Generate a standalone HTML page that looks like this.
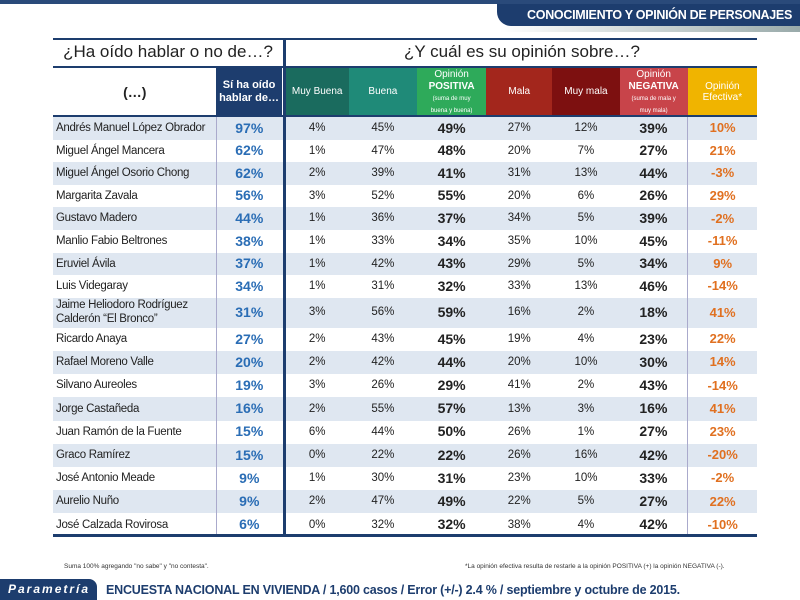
<!DOCTYPE html>
<html><head><meta charset="utf-8"><style>
*{margin:0;padding:0;box-sizing:border-box}
body{width:800px;height:600px;background:#fff;font-family:"Liberation Sans",sans-serif;position:relative;overflow:hidden}
.banner{position:absolute;left:0;top:0;width:800px;height:4px;background:#2a4a7a}
.tab{position:absolute;left:497px;top:4px;width:303px;height:22px;background:#1d3d6e;border-bottom-left-radius:14px;color:#fff;font-weight:bold;font-size:12.5px;letter-spacing:-0.3px;text-align:right;padding:4px 8px 0 0;white-space:nowrap}
.grey{position:absolute;left:500px;top:26px;width:300px;height:6px;background:linear-gradient(90deg,#fff,#9aa)}
.t{position:absolute;left:53px;width:704px;border-collapse:collapse;table-layout:fixed}
.hline{position:absolute;background:#1d3d6e;z-index:2}
td{font-size:11.5px;color:#222;text-align:center;height:22.6px;padding:0;line-height:1.1;white-space:nowrap;overflow:hidden}
td.n{text-align:left;padding-left:3px;border-right:1px solid #aac;font-size:11.5px;letter-spacing:-0.3px}
td.s{color:#2a6db5;font-weight:bold;font-size:14px}
td.p{font-weight:bold;font-size:14px}
td.e{color:#e07020;font-weight:bold;font-size:13px;border-left:1px solid #aac}
tr.a td{background:#dfe7f1}
.h td{color:#fff;font-size:10px;height:48px;line-height:1.15;white-space:normal}
.small{font-size:6px}
</style></head><body>
<div class="banner"></div>
<div class="tab">CONOCIMIENTO Y OPINIÓN DE PERSONAJES</div>
<div class="grey"></div>
<div class="hline" style="left:53px;top:38px;width:704px;height:2px"></div>
<div style="position:absolute;left:53px;top:42px;width:230px;text-align:center;font-size:17px;color:#222">¿Ha oído hablar o no de…?</div>
<div style="position:absolute;left:287px;top:42px;width:470px;text-align:center;font-size:17px;color:#222">¿Y cuál es su opinión sobre…?</div>
<div class="hline" style="left:53px;top:66px;width:704px;height:2px"></div>
<div class="hline" style="left:283px;top:40px;width:3px;height:495px"></div>
<table class="t" style="top:68px">
<colgroup><col style="width:163px"><col style="width:65px"><col style="width:4px"><col style="width:63px"><col style="width:68px"><col style="width:69px"><col style="width:66px"><col style="width:67px"><col style="width:68px"><col style="width:69px"></colgroup>
<tr class="h">
<td style="color:#222;font-size:14px;font-weight:bold">(…)</td>
<td style="background:#1d3d6e;font-size:11px;font-weight:bold">Sí ha oído<br>hablar de…</td>
<td></td>
<td style="background:#1a6b5e">Muy Buena</td>
<td style="background:#1f8a78">Buena</td>
<td style="background:#2eaa5a">Opinión<br><b>POSITIVA</b><br><span class="small">(suma de muy<br>buena y buena)</span></td>
<td style="background:#a3261c">Mala</td>
<td style="background:#7d1010">Muy mala</td>
<td style="background:#c8444a">Opinión<br><b>NEGATIVA</b><br><span class="small">(suma de mala y<br>muy mala)</span></td>
<td style="background:#f0b400">Opinión<br>Efectiva*</td>
</tr></table>
<div class="hline" style="left:53px;top:115px;width:704px;height:2px"></div>
<table class="t" style="top:117px">
<colgroup><col style="width:163px"><col style="width:65px"><col style="width:4px"><col style="width:63px"><col style="width:68px"><col style="width:69px"><col style="width:66px"><col style="width:67px"><col style="width:68px"><col style="width:69px"></colgroup>
<tr class="a"><td class="n">Andrés Manuel López Obrador</td><td class="s">97%</td><td></td><td>4%</td><td>45%</td><td class="p">49%</td><td>27%</td><td>12%</td><td class="p">39%</td><td class="e">10%</td></tr>
<tr><td class="n">Miguel Ángel Mancera</td><td class="s">62%</td><td></td><td>1%</td><td>47%</td><td class="p">48%</td><td>20%</td><td>7%</td><td class="p">27%</td><td class="e">21%</td></tr>
<tr class="a"><td class="n">Miguel Ángel Osorio Chong</td><td class="s">62%</td><td></td><td>2%</td><td>39%</td><td class="p">41%</td><td>31%</td><td>13%</td><td class="p">44%</td><td class="e">-3%</td></tr>
<tr><td class="n">Margarita Zavala</td><td class="s">56%</td><td></td><td>3%</td><td>52%</td><td class="p">55%</td><td>20%</td><td>6%</td><td class="p">26%</td><td class="e">29%</td></tr>
<tr class="a"><td class="n">Gustavo Madero</td><td class="s">44%</td><td></td><td>1%</td><td>36%</td><td class="p">37%</td><td>34%</td><td>5%</td><td class="p">39%</td><td class="e">-2%</td></tr>
<tr><td class="n">Manlio Fabio Beltrones</td><td class="s">38%</td><td></td><td>1%</td><td>33%</td><td class="p">34%</td><td>35%</td><td>10%</td><td class="p">45%</td><td class="e">-11%</td></tr>
<tr class="a"><td class="n">Eruviel Ávila</td><td class="s">37%</td><td></td><td>1%</td><td>42%</td><td class="p">43%</td><td>29%</td><td>5%</td><td class="p">34%</td><td class="e">9%</td></tr>
<tr><td class="n">Luis Videgaray</td><td class="s">34%</td><td></td><td>1%</td><td>31%</td><td class="p">32%</td><td>33%</td><td>13%</td><td class="p">46%</td><td class="e">-14%</td></tr>
<tr class="a"><td class="n" style="height:30px;line-height:1.2">Jaime Heliodoro Rodríguez<br>Calderón “El Bronco”</td><td class="s">31%</td><td></td><td>3%</td><td>56%</td><td class="p">59%</td><td>16%</td><td>2%</td><td class="p">18%</td><td class="e">41%</td></tr>
<tr><td class="n" style="height:23.2px">Ricardo Anaya</td><td class="s">27%</td><td></td><td>2%</td><td>43%</td><td class="p">45%</td><td>19%</td><td>4%</td><td class="p">23%</td><td class="e">22%</td></tr>
<tr class="a"><td class="n" style="height:23.2px">Rafael Moreno Valle</td><td class="s">20%</td><td></td><td>2%</td><td>42%</td><td class="p">44%</td><td>20%</td><td>10%</td><td class="p">30%</td><td class="e">14%</td></tr>
<tr><td class="n" style="height:23.2px">Silvano Aureoles</td><td class="s">19%</td><td></td><td>3%</td><td>26%</td><td class="p">29%</td><td>41%</td><td>2%</td><td class="p">43%</td><td class="e">-14%</td></tr>
<tr class="a"><td class="n" style="height:23.2px">Jorge Castañeda</td><td class="s">16%</td><td></td><td>2%</td><td>55%</td><td class="p">57%</td><td>13%</td><td>3%</td><td class="p">16%</td><td class="e">41%</td></tr>
<tr><td class="n" style="height:23.2px">Juan Ramón de la Fuente</td><td class="s">15%</td><td></td><td>6%</td><td>44%</td><td class="p">50%</td><td>26%</td><td>1%</td><td class="p">27%</td><td class="e">23%</td></tr>
<tr class="a"><td class="n" style="height:23.2px">Graco Ramírez</td><td class="s">15%</td><td></td><td>0%</td><td>22%</td><td class="p">22%</td><td>26%</td><td>16%</td><td class="p">42%</td><td class="e">-20%</td></tr>
<tr><td class="n" style="height:23.2px">José Antonio Meade</td><td class="s">9%</td><td></td><td>1%</td><td>30%</td><td class="p">31%</td><td>23%</td><td>10%</td><td class="p">33%</td><td class="e">-2%</td></tr>
<tr class="a"><td class="n" style="height:23.2px">Aurelio Nuño</td><td class="s">9%</td><td></td><td>2%</td><td>47%</td><td class="p">49%</td><td>22%</td><td>5%</td><td class="p">27%</td><td class="e">22%</td></tr>
<tr><td class="n" style="height:23.2px">José Calzada Rovirosa</td><td class="s">6%</td><td></td><td>0%</td><td>32%</td><td class="p">32%</td><td>38%</td><td>4%</td><td class="p">42%</td><td class="e">-10%</td></tr>
</table>
<div class="hline" style="left:53px;top:534px;width:704px;height:3px"></div>
<div style="position:absolute;left:64px;top:563px;font-size:6.5px;color:#333">Suma 100%  agregando "no sabe" y "no contesta".</div>
<div style="position:absolute;left:465px;top:563px;font-size:6.5px;color:#333">*La opinión efectiva resulta de restarle a la opinión POSITIVA (+) la opinión NEGATIVA (-).</div>
<div style="position:absolute;left:0;top:579px;width:97px;height:21px;background:#1d3d6e;border-top-right-radius:8px;color:#fff;font-style:italic;font-weight:bold;font-size:12px;letter-spacing:2px;padding:3px 0 0 8px">Parametría</div>
<div style="position:absolute;left:106px;top:583px;font-size:12.5px;letter-spacing:-0.2px;font-weight:bold;color:#1d3d6e;white-space:nowrap">ENCUESTA NACIONAL EN VIVIENDA / 1,600 casos / Error (+/-) 2.4 % / septiembre y octubre de 2015.</div>
</body></html>
